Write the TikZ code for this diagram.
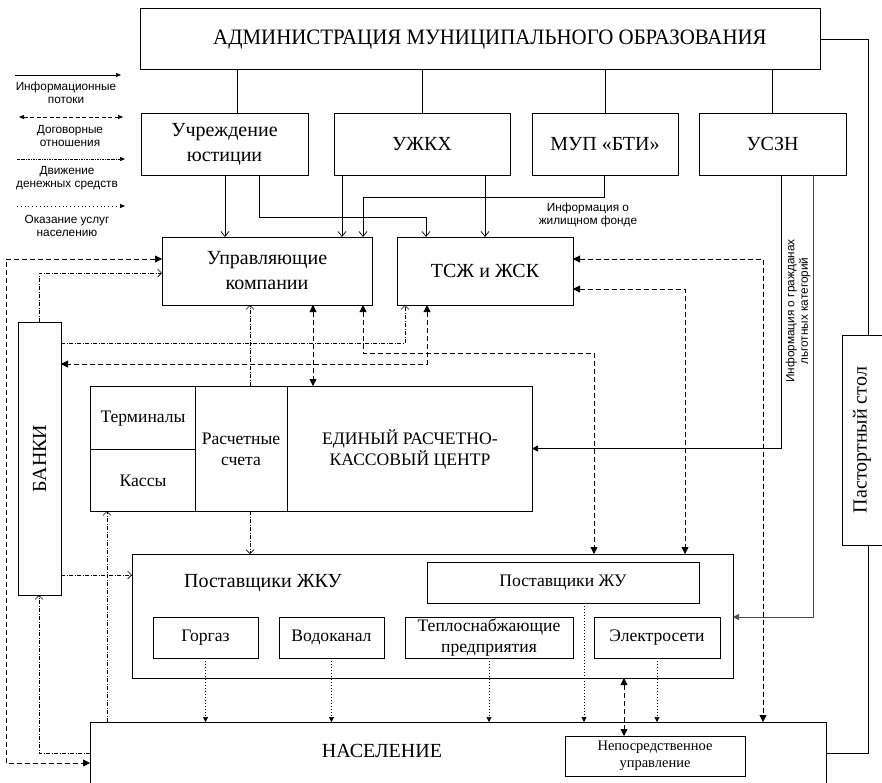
\documentclass[tikz,border=0pt]{standalone}
\usepackage{fontspec}
\setmainfont{Liberation Serif}
\setsansfont{Liberation Sans}
\usetikzlibrary{arrows.meta}
\begin{document}
\begin{tikzpicture}[x=1pt,y=-1pt,
  box/.style={draw, line width=0.8pt, inner sep=0pt, outer sep=0pt, anchor=north west, align=center, font=\fontsize{20}{25}\selectfont},
  mid/.style={font=\fontsize{17.6}{21}\selectfont},
  big/.style={font=\fontsize{20}{25}\selectfont},
  lbl/.style={align=center, inner sep=0pt, font=\sffamily\fontsize{11.8}{13.5}\selectfont},
  ln/.style={line width=0.8pt},
  info/.style={line width=0.7pt, -{Straight Barb[length=5pt,width=8pt]}},
  infof/.style={line width=0.7pt, -{Triangle[length=6pt,width=6pt]}},
  contract/.style={line width=0.8pt, dash pattern=on 5pt off 3pt, {Triangle[length=7pt,width=7pt]}-{Triangle[length=7pt,width=7pt]}},
  money/.style={line width=0.6pt, dash pattern=on 4pt off 1.5pt on 1pt off 1.5pt, -{Straight Barb[length=4pt,width=8pt]}},
  service/.style={line width=0.6pt, dash pattern=on 1pt off 2pt, -{Triangle[length=5pt,width=5pt]}}
]
\useasboundingbox (0,0) rectangle (882,782);
\clip (0,0) rectangle (882,782);

% ---------- boxes ----------
\node[box, minimum width=680pt, minimum height=61pt] (adm) at (140,8) {};
\node[xscale=0.95, font=\fontsize{22}{25}\selectfont] (admtxt) at (490,40) {АДМИНИСТРАЦИЯ МУНИЦИПАЛЬНОГО ОБРАЗОВАНИЯ};
\node[box, minimum width=167pt, minimum height=62pt] (uch) at (141,113) {Учреждение\\юстиции};
\node[box, minimum width=176pt, minimum height=62pt] (ujkh) at (334,113) {УЖКХ};
\node[box, minimum width=146pt, minimum height=62pt] (mup) at (532,113) {МУП «БТИ»};
\node[box, minimum width=147pt, minimum height=62pt] (uszn) at (699,113) {УСЗН};

\node[box, minimum width=210pt, minimum height=68pt] (uk) at (162,237) {Управляющие\\компании};
\node[box, minimum width=176pt, minimum height=68pt] (tsj) at (397,237) {ТСЖ и ЖСК};

\node[box, minimum width=43pt, minimum height=273pt] (banki) at (18,322) {};
\node[big, rotate=90] at (banki.center) {БАНКИ};

\node[box, minimum width=442pt, minimum height=125pt] (erkc) at (90,386) {};
\draw[ln] ([xshift=105pt]erkc.north west) -- ([xshift=105pt]erkc.south west);
\draw[ln] ([xshift=197pt]erkc.north west) -- ([xshift=197pt]erkc.south west);
\draw[ln] ([yshift=-63pt]erkc.north west) -- ([xshift=105pt,yshift=-63pt]erkc.north west);
\node[mid] at (143,419) {Терминалы};
\node[mid] at (143,481) {Кассы};
\node[mid, align=center] at (241,449) {Расчетные\\счета};
\node[mid, align=center] at (410,449) {ЕДИНЫЙ РАСЧЕТНО-\\КАССОВЫЙ ЦЕНТР};

\node[box, minimum width=601pt, minimum height=124pt] (zhku) at (132,554) {};
\node[big] at (263,583) {Поставщики ЖКУ};
\node[box, mid, minimum width=272pt, minimum height=41pt] (zhu) at (427,562) {Поставщики ЖУ};
\node[box, mid, minimum width=105pt, minimum height=41pt] (gorgaz) at (153,617) {Горгаз};
\node[box, mid, minimum width=105pt, minimum height=41pt] (vodo) at (279,617) {Водоканал};
\node[box, mid, minimum width=168pt, minimum height=41pt, font=\fontsize{17.6}{21}\selectfont] (teplo) at (405,617) {Теплоснабжающие\\предприятия};
\node[box, mid, minimum width=126pt, minimum height=41pt] (elektro) at (594,617) {Электросети};

\node[box, minimum width=736pt, minimum height=80pt] (nas) at (90,722) {};
\node[big] at (382,751) {НАСЕЛЕНИЕ};
\node[box, minimum width=180pt, minimum height=40pt, font=\fontsize{14.5}{17}\selectfont] (nep) at (565,736) {Непосредственное\\управление};

\node[box, minimum width=52pt, minimum height=210pt] (pasp) at (842,335) {};
\node[big, rotate=90] at (862,440) {Пастортный стол};

% ---------- administration links ----------
\coordinate (a1) at ([xshift=96pt]uch.north west);
\draw[ln] (a1) -- (a1 |- adm.south);
\draw[ln] (ujkh.north) -- (ujkh.north |- adm.south);
\draw[ln] (mup.north) -- (mup.north |- adm.south);
\draw[ln] (uszn.north) -- (uszn.north |- adm.south);
\draw[ln] ([yshift=-31pt]adm.north east) -| (pasp.north);
\draw[ln] ([yshift=-31pt]nas.north east) -| (pasp.south);

% ---------- information flows ----------
\coordinate (i1) at ([xshift=84pt]uch.south west);
\draw[info] (i1) -- (i1 |- uk.north);
\draw[info] ([xshift=118pt]uch.south west) -- ++(0,42) -| ([xshift=29pt]tsj.north west);
\coordinate (i2) at ([xshift=8pt]ujkh.south west);
\draw[info] (i2) -- (i2 |- uk.north);
\coordinate (i3) at ([xshift=151pt]ujkh.south west);
\draw[info] (i3) -- (i3 |- tsj.north);
\draw[info] ([xshift=72pt]mup.south west) -- ++(0,22) -| ([xshift=201pt]uk.north west);
\node[lbl] (lblmup) at (588,215) {Информация о\\жилищном фонде};
\draw[infof] ([xshift=82pt]uszn.south west) |- (erkc.east);
\draw[infof, draw=black!70] ([xshift=114pt]uszn.south west) |- ([yshift=-63pt]zhku.north east);
\node[lbl, rotate=90] (lbluszn) at (798,311) {Информация о гражданах\\льготных категорий};

% ---------- contractual relations ----------
\draw[contract] ([yshift=-22pt]uk.north west) -- ++(-156,0) |- ([yshift=-41pt]nas.north west);
\coordinate (c1) at ([xshift=151pt]uk.south west);
\draw[contract] (c1) -- (c1 |- erkc.north);
\draw[contract] ([xshift=201pt]uk.south west) -- ++(0,48) -| ([xshift=462pt]zhku.north west);
\draw[contract] ([xshift=30pt]tsj.south west) |- ([yshift=-42pt]banki.north east);
\draw[contract] ([yshift=-22pt]tsj.north east) -| ([xshift=673pt]nas.north west);
\draw[contract] ([yshift=-52pt]tsj.north east) -| ([xshift=553pt]zhku.north west);
\coordinate (c2) at ([xshift=492pt]zhku.south west);
\draw[contract] (c2) -- (c2 |- nep.north);

% ---------- money flows ----------
\draw[money] ([xshift=21pt]banki.north west) |- ([yshift=-36pt]uk.north west);
\draw[money] ([yshift=-21pt]banki.north east) -| ([xshift=8pt]tsj.south west);
\coordinate (m1) at ([xshift=160pt]erkc.north west);
\draw[money] (m1) -- (m1 |- uk.south);
\coordinate (m2) at ([xshift=160pt]erkc.south west);
\draw[money] (m2) -- (m2 |- zhku.north);
\coordinate (m3) at ([yshift=-253pt]banki.north east);
\draw[money] (m3) -- (m3 -| zhku.west);
\coordinate (m4) at ([xshift=17pt]nas.north west);
\draw[money] (m4) -- (m4 |- erkc.south);
\draw[money] ([yshift=-31pt]nas.north west) -| ([xshift=21pt]banki.south west);

% ---------- services ----------
\draw[service] (gorgaz.south) -- (gorgaz.south |- nas.north);
\draw[service] (vodo.south) -- (vodo.south |- nas.north);
\draw[service] (teplo.south) -- (teplo.south |- nas.north);
\coordinate (s1) at ([xshift=157pt]zhu.south west);
\draw[service] (s1) -- (s1 |- nas.north);
\draw[service] (elektro.south) -- (elektro.south |- nas.north);

% ---------- legend ----------
\coordinate (L1a) at (15,75);  \coordinate (L1b) at (121,75);
\draw[line width=0.7pt, -{Triangle[length=5pt,width=4pt]}] (L1a) -- (L1b);
\node[lbl] (leg1) at (66,93) {Информационные\\потоки};
\coordinate (L2a) at (19,117); \coordinate (L2b) at (123,117);
\draw[line width=0.7pt, dash pattern=on 4pt off 2.5pt, {Triangle[length=5pt,width=4pt]}-{Triangle[length=5pt,width=4pt]}] (L2a) -- (L2b);
\node[lbl] (leg2) at (70,136) {Договорные\\отношения};
\coordinate (L3a) at (17,159); \coordinate (L3b) at (125,159);
\draw[line width=0.6pt, dash pattern=on 2.5pt off 1pt on 0.8pt off 1pt, -{Triangle[length=5pt,width=4pt]}] (L3a) -- (L3b);
\node[lbl] (leg3) at (67,178) {Движение\\денежных средств};
\coordinate (L4a) at (17,206); \coordinate (L4b) at (125,206);
\draw[line width=0.6pt, dash pattern=on 0.8pt off 3pt, -{Triangle[length=5pt,width=4pt]}] (L4a) -- (L4b);
\node[lbl] (leg4) at (67,226) {Оказание услуг\\населению};
\end{tikzpicture}
\end{document}
